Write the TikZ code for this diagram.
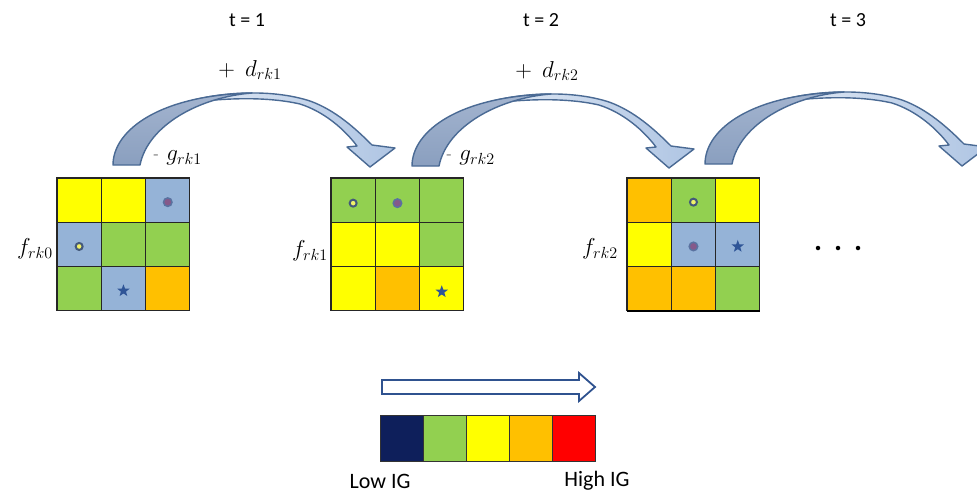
\RequirePackage{fix-cm}
\documentclass[tikz,border=0pt]{standalone}
\usepackage[no-math]{fontspec}
\setmainfont{Carlito}
\usetikzlibrary{shapes.geometric}
\definecolor{cyel}{HTML}{FFFF00}
\definecolor{cgrn}{HTML}{92D050}
\definecolor{cblu}{HTML}{95B3D7}
\definecolor{corg}{HTML}{FFC000}
\definecolor{cred}{HTML}{FF0000}
\definecolor{cnavy}{HTML}{0E1F5B}
\definecolor{aline}{HTML}{4A6A94}
\definecolor{adarkA}{HTML}{A3B4CF}
\definecolor{adarkB}{HTML}{8A9FBF}
\definecolor{alightA}{HTML}{E2EAF5}
\definecolor{alightB}{HTML}{AFC5E3}
\definecolor{starc}{HTML}{2F5597}
\definecolor{ringc}{HTML}{44597A}
\definecolor{ringfill}{HTML}{F2F26A}
\definecolor{purpc}{HTML}{85598A}
\definecolor{purpline}{HTML}{5A72A0}
\definecolor{legline}{HTML}{2F528F}
\tikzset{
  bentarrow/.pic={
    \path[arrowline, left color=alightA, right color=alightB]
      (67,-61) .. controls (102,-73) and (157,-77) .. (197,-64)
      .. controls (222,-55) and (242,-37) .. (259,-20)
      -- (282,-17) -- (257,2) -- (234,-18) -- (244,-19)
      .. controls (232,-35) and (212,-53) .. (187,-61)
      .. controls (152,-69) and (107,-67) .. (67,-61) -- cycle;
    \path[arrowline, top color=adarkA, bottom color=adarkB]
      (0,0) .. controls (0,-35) and (47,-70) .. (139,-72)
      .. controls (87,-68) and (35,-40) .. (27,0) -- cycle;
  }
}
\begin{document}
\begin{tikzpicture}[x=1pt,y=-1pt,
  cell/.style={draw=black!85, line width=1.1pt, minimum size=44.3pt, inner sep=0pt, outer sep=0pt},
  ringdot/.style={circle, draw=ringc, line width=2pt, fill=ringfill, minimum size=7pt, inner sep=0pt},
  purpdot/.style={circle, draw=purpline, line width=1.5pt, fill=purpc, minimum size=8.5pt, inner sep=0pt},
  starmark/.style={star, star points=5, star point ratio=2.4, fill=starc, minimum size=13pt, inner sep=0pt},
  mathlbl/.style={font=\fontsize{23}{27}\selectfont, inner sep=0pt},
  txt/.style={font=\fontsize{20}{24}\selectfont, inner sep=0pt},
  legtxt/.style={font=\fontsize{22}{26}\selectfont, inner sep=0pt},
  legcell/.style={draw=black!80, line width=0.8pt, minimum width=43pt, minimum height=46pt, inner sep=0pt, outer sep=0pt},
  arrowline/.style={draw=aline, line width=1.4pt, line join=round},
  bigdot/.style={circle, fill=black, minimum size=4.5pt, inner sep=0pt},
]
\fill[white] (0,0) rectangle (977,493);
\useasboundingbox (0,0) rectangle (977,493);
\clip (0,0) rectangle (977,493);

% time labels
\node[txt] (t1) at (247,20) {t = 1};
\node[txt] (t2) at (541,20) {t = 2};
\node[txt] (t3) at (848,20) {t = 3};

% curved arrows
\pic at (113,165) {bentarrow};
\pic at (412,166) {bentarrow};
\pic at (705,164) {bentarrow};

% arrow labels
\node[mathlbl] (d1) at (250,70) {$+\;\,d_{rk1}$};
\node[mathlbl] (d2) at (547,71) {$+\;\,d_{rk2}$};
\node[mathlbl, anchor=west] (g1) at (153,158) {{\color{black!45}\fontsize{18}{20}\selectfont -}\,\,$g_{rk1}$};
\node[mathlbl, anchor=west] (g2) at (446,158) {{\color{black!45}\fontsize{18}{20}\selectfont -}\,\,$g_{rk2}$};

% grid 1
\foreach \c [count=\i from 0] in {cyel,cyel,cblu,cblu,cgrn,cgrn,cgrn,cblu,corg}{
  \pgfmathtruncatemacro{\rr}{\i/3}
  \pgfmathtruncatemacro{\cc}{\i-3*\rr}
  \node[cell, fill=\c] (ga\i) at ({57+44.3*(\cc+0.5)},{178+44.3*(\rr+0.5)}) {};
}
% grid 2
\foreach \c [count=\i from 0] in {cgrn,cgrn,cgrn,cyel,cyel,cgrn,cyel,corg,cyel}{
  \pgfmathtruncatemacro{\rr}{\i/3}
  \pgfmathtruncatemacro{\cc}{\i-3*\rr}
  \node[cell, fill=\c] (gb\i) at ({331+44.3*(\cc+0.5)},{178+44.3*(\rr+0.5)}) {};
}
% grid 3
\foreach \c [count=\i from 0] in {corg,cgrn,cyel,cyel,cblu,cblu,corg,corg,cgrn}{
  \pgfmathtruncatemacro{\rr}{\i/3}
  \pgfmathtruncatemacro{\cc}{\i-3*\rr}
  \node[cell, fill=\c] (gc\i) at ({627+44.3*(\cc+0.5)},{178+44.3*(\rr+0.5)}) {};
}
\draw[black, line width=2.4pt] (gc6.south west) -- (gc8.south east);

% markers
\node[purpdot] (m1) at ([yshift=-2pt]ga2.center) {};
\node[ringdot] (m2) at ([yshift=-2pt]ga3.center) {};
\node[starmark] (m3) at ([yshift=-2pt]ga7.center) {};
\node[ringdot] (m4) at ([yshift=-3pt]gb0.center) {};
\node[purpdot] (m5) at ([yshift=-3pt]gb1.center) {};
\node[starmark] (m6) at ([yshift=-3pt]gb8.center) {};
\node[ringdot] (m7) at ([yshift=-2pt]gc1.center) {};
\node[purpdot] (m8) at ([yshift=-2pt]gc4.center) {};
\node[starmark] (m9) at ([yshift=-2pt]gc5.center) {};

% grid labels
\node[mathlbl, anchor=east] (f0) at (53,249) {$f_{rk0}$};
\node[mathlbl, anchor=east] (f1) at (328,251) {$f_{rk1}$};
\node[mathlbl, anchor=east] (f2) at (618,249) {$f_{rk2}$};

% ellipsis
\foreach \x [count=\i] in {818,838,858}{
  \node[bigdot] (dot\i) at (\x,248) {};
}

% legend arrow
\draw[legline, line width=1.8pt, fill=white, line join=miter]
  (382,380) -- (579,380) -- (579,373) -- (595,387) -- (579,401) -- (579,394) -- (382,394) -- cycle;

% legend bar
\foreach \c [count=\i from 0] in {cnavy,cgrn,cyel,corg,cred}{
  \node[legcell, fill=\c] (lg\i) at ({380+43*(\i+0.5)},438.5) {};
}
\node[legtxt] (low) at (380,481) {Low IG};
\node[legtxt] (high) at (597,481) {High IG};
\end{tikzpicture}
\end{document}
